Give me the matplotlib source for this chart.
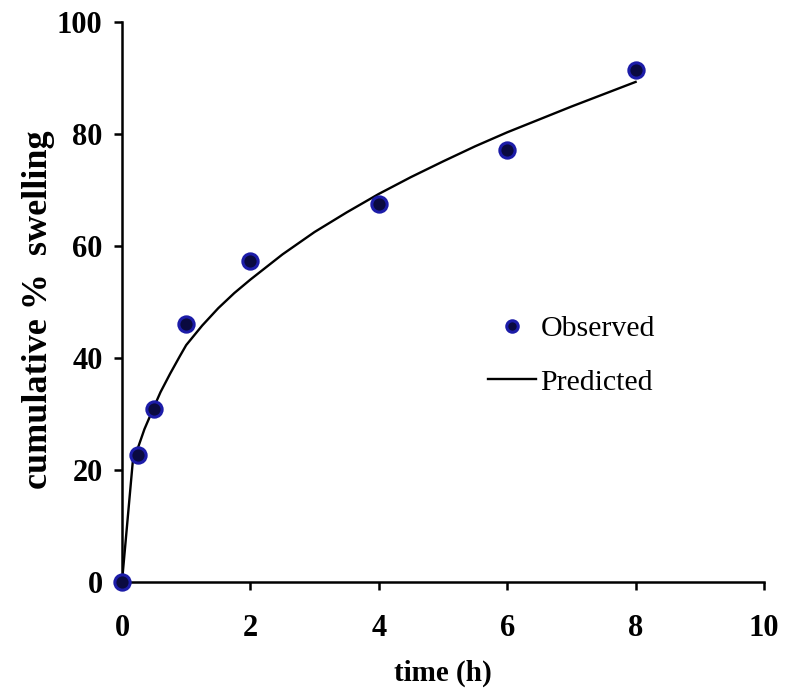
import matplotlib
matplotlib.use("Agg")
import matplotlib.pyplot as plt

# observed swelling data
obs_time = [0, 0.25, 0.5, 1, 2, 4, 6, 8]
obs_swell = [0, 22.7, 30.9, 46.0, 57.4, 67.5, 77.1, 91.4]

# predicted curve
pred_time = [0, 0.17, 0.25, 0.35, 0.5, 0.6, 0.75, 0.9, 1, 1.25, 1.5, 1.75, 2, 2.5, 3, 3.5, 4,
             4.5, 5, 5.5, 6, 6.5, 7, 7.5, 8]
pred_swell = [0, 21.7, 24.0, 27.3, 31.3, 33.9, 37.2, 40.3, 42.3, 45.8, 48.9, 51.6, 54.0, 58.5,
              62.5, 66.0, 69.3, 72.3, 75.1, 77.8, 80.3, 82.6, 84.9, 87.1, 89.3]

x_ticks = [0, 2, 4, 6, 8, 10]
y_ticks = [0, 20, 40, 60, 80, 100]

plt.rcParams['font.family'] = ['Liberation Serif', 'DejaVu Serif']

fig = plt.figure(figsize=(7.9, 6.94), dpi=100)
ax = fig.add_axes([0.1544, 0.1614, 0.8127, 0.8069])

ax.plot(obs_time, obs_swell, linestyle='none', marker='o', markersize=11,
        markerfacecolor='#0a0a40', markeredgecolor='#1c1ca8', markeredgewidth=2.2,
        label='Observed', clip_on=False, zorder=3)
ax.plot(pred_time, pred_swell, color='black', linewidth=1.7, label='Predicted', zorder=2)

ax.set_xlim(0, 10)
ax.set_ylim(0, 100)
ax.set_xticks(x_ticks)
ax.set_yticks(y_ticks)

for s in ['top', 'right']:
    ax.spines[s].set_visible(False)
for s in ['left', 'bottom']:
    ax.spines[s].set_linewidth(1.8)

ax.tick_params(direction='out', length=6, width=1.8, labelsize=22)
ax.tick_params(axis='x', pad=17)
ax.tick_params(axis='y', pad=8)
for lab in ax.get_xticklabels() + ax.get_yticklabels():
    lab.set_fontweight('bold')

ax.set_xlabel('time (h)', fontsize=21, fontweight='bold', labelpad=12)
ax.set_ylabel('cumulative %  swelling', fontsize=26, fontweight='bold', labelpad=4)
ax.yaxis.set_label_coords(-0.105, 0.487)

leg = ax.legend(loc='upper left', bbox_to_anchor=(0.547, 0.503), frameon=False,
                fontsize=21.5, handlelength=1.6, handletextpad=0.15, labelspacing=0.9,
                markerscale=0.75, borderpad=0)

fig.savefig('out.png', dpi=100)
